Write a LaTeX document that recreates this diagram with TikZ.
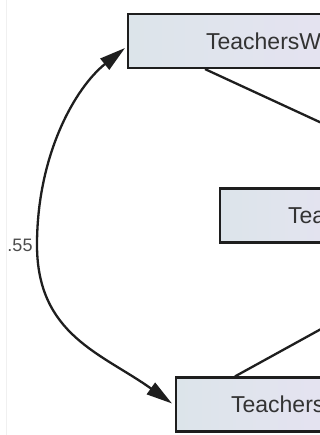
\documentclass[tikz,border=0pt]{standalone}
\usepackage{fontspec}
\setmainfont{Liberation Sans}
\usetikzlibrary{arrows.meta,calc}
\definecolor{boxleft}{HTML}{DCE4EA}
\definecolor{boxright}{HTML}{E8E3F3}
\definecolor{ink}{HTML}{1E1E1E}
\begin{document}
\begin{tikzpicture}[x=1pt,y=-1pt,
  varbox/.style={draw=ink, line width=2.2pt, left color=boxleft, right color=boxright,
    minimum height=54pt, inner ysep=0pt, anchor=west,
    font=\fontsize{23}{27}\selectfont, text=black!80},
  regpath/.style={line width=2.3pt, draw=ink},
  covpath/.style={line width=2.3pt, draw=ink,
    {Triangle[length=26pt,width=14pt]}-{Triangle[length=26pt,width=14pt]}},
  coeff/.style={font=\fontsize{18}{20}\selectfont, text=black!70},
]
\useasboundingbox (0,0) rectangle (320,435);
\fill[white] (0,0) rectangle (320,435);
\clip (0,0) rectangle (320,435);
\draw[gray!12, line width=1pt] (6,0) -- (6,435);

% observed variables
\node[varbox, inner xsep=78pt] (tw) at (127,41) {TeachersW};
\node[varbox, inner xsep=68pt] (tm) at (219,215.5) {Tea};
\node[varbox, inner xsep=55pt] (tb) at (175,404.5) {Teachers};

% paths leading to the variable on the right
\coordinate (r1) at (430,173);
\coordinate (r2) at (430,269);
\draw[regpath] ($(tw.south west)+(78,0)$) -- (r1);
\draw[regpath] ($(tb.north west)+(60,0)$) -- (r2);

% covariance between the two exogenous variables
\draw[covpath] ($(tw.west)+(-2,7)$)
  .. controls +(-50,40) and +(0,-90) .. (37,245) node[coeff, anchor=east] {.55}
  .. controls +(0,90) and +(-70,-50) .. ($(tb.west)+(-3,-1)$);
\end{tikzpicture}
\end{document}
